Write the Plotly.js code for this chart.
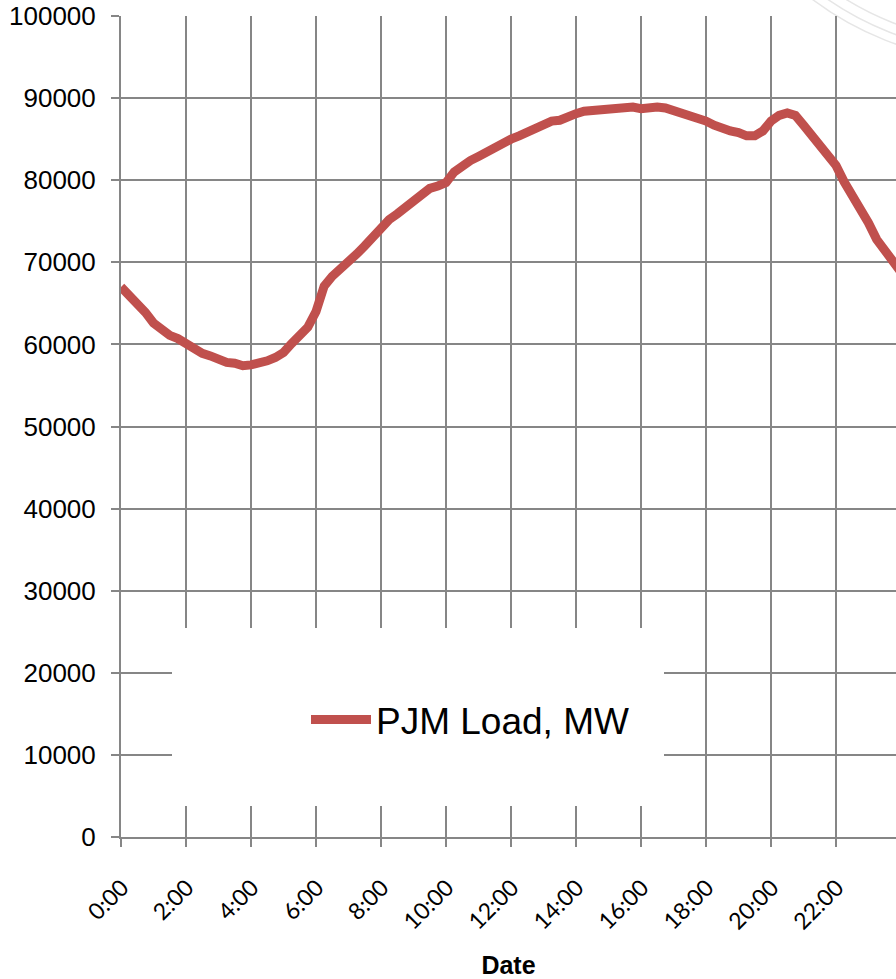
<!DOCTYPE html>
<html>
<head>
<meta charset="utf-8">
<script src="https://cdn.plot.ly/plotly-3.0.1.min.js"></script>
<style>
  html, body { margin: 0; padding: 0; background: #ffffff; }
  #chart { width: 896px; height: 979px; }
</style>
</head>
<body>
<div id="chart"></div>
<script>
// Time of day in hours (15-minute steps)
const hours = [
  0, 0.25, 0.5, 0.75, 1, 1.25, 1.5, 1.75, 2, 2.25, 2.5, 2.75,
  3, 3.25, 3.5, 3.75, 4, 4.25, 4.5, 4.75, 5, 5.25, 5.5, 5.75,
  6, 6.25, 6.5, 6.75, 7, 7.25, 7.5, 7.75, 8, 8.25, 8.5, 8.75,
  9, 9.25, 9.5, 9.75, 10, 10.25, 10.5, 10.75, 11, 11.25, 11.5, 11.75,
  12, 12.25, 12.5, 12.75, 13, 13.25, 13.5, 13.75, 14, 14.25, 14.5, 14.75,
  15, 15.25, 15.5, 15.75, 16, 16.25, 16.5, 16.75, 17, 17.25, 17.5, 17.75,
  18, 18.25, 18.5, 18.75, 19, 19.25, 19.5, 19.75, 20, 20.25, 20.5, 20.75,
  21, 21.25, 21.5, 21.75, 22, 22.25, 22.5, 22.75, 23, 23.25, 23.5, 23.75, 24
];

// PJM Load, MW
const pjmLoad = [
  67000, 66000, 65000, 63900, 62600, 61700, 61100, 60700, 60100, 59400, 58900, 58600,
  58200, 57800, 57700, 57400, 57500, 57700, 58000, 58400, 59000, 60100, 61100, 62100,
  64000, 67100, 68300, 69100, 70000, 71000, 72000, 73200, 74100, 75200, 75900, 76700,
  77400, 78400, 79000, 79300, 79700, 81000, 81800, 82400, 82900, 83500, 84100, 84500,
  85000, 85400, 85900, 86400, 86800, 87200, 87300, 87800, 88100, 88400, 88500, 88600,
  88600, 88700, 88900, 88900, 88700, 88900, 88900, 88800, 88500, 88300, 88000, 87700,
  87200, 86700, 86300, 86000, 85800, 85400, 85400, 86000, 87200, 87900, 88200, 87900,
  86700, 85500, 84600, 83200, 81800, 79800, 78300, 76700, 74800, 72800, 71400, 70000, 68800
];

const tickHours = [0, 2, 4, 6, 8, 10, 12, 14, 16, 18, 20, 22];
const tickLabels = ["0:00", "2:00", "4:00", "6:00", "8:00", "10:00", "12:00", "14:00", "16:00", "18:00", "20:00", "22:00"];

const seriesName = "PJM Load, MW";
const xTitle = "Date";

// Layout geometry (pixels)
const W = 896, H = 979;
const mL = 121, mT = 16, mB = 142, mR = 0;
const plotW = W - mL - mR, plotH = H - mT - mB;
const px = v => (v - mL) / plotW;
const py = v => (H - mB - v) / plotH;

// faint decorative arcs in the top-right corner
const arcs = [312, 303, 293].map(function (r) {
  const cx = 1000, cy = -250;
  return {
    type: 'circle', xref: 'paper', yref: 'paper', layer: 'below',
    x0: px(cx - r), x1: px(cx + r), y0: py(cy + r), y1: py(cy - r),
    line: { color: '#e6e6e6', width: 1.5 }
  };
});

const trace = {
  x: hours, y: pjmLoad, type: 'scatter', mode: 'lines', name: seriesName,
  line: { color: '#C0504D', width: 9, shape: 'linear' },
  showlegend: true
};

const layout = {
  width: W, height: H,
  margin: { l: mL, r: mR, t: mT, b: mB, pad: 0 },
  paper_bgcolor: '#ffffff', plot_bgcolor: 'rgba(0,0,0,0)',
  font: { family: 'Liberation Sans, Arial, sans-serif', color: '#000000' },
  xaxis: {
    range: [0, 23.846],
    tickvals: tickHours, ticktext: tickLabels,
    tickangle: -45,
    tickfont: { family: 'Lato, Carlito, sans-serif', size: 23, color: '#000' },
    ticks: 'outside', ticklen: 8, tickcolor: '#868686', tickwidth: 2,
    ticklabelstandoff: 18, ticklabelshift: 1,
    showgrid: true, gridcolor: '#868686', gridwidth: 2,
    showline: true, linecolor: '#868686', linewidth: 2,
    zeroline: false,
    title: { text: xTitle, font: { family: 'Liberation Sans, Arial, sans-serif', size: 25, color: '#000', weight: 'bold' }, standoff: 30 }
  },
  yaxis: {
    range: [0, 100000],
    tickvals: [0, 10000, 20000, 30000, 40000, 50000, 60000, 70000, 80000, 90000, 100000],
    ticktext: ['0', '10000', '20000', '30000', '40000', '50000', '60000', '70000', '80000', '90000', '100000'],
    tickfont: { family: 'Liberation Sans, Arial, sans-serif', size: 26, color: '#000' },
    ticks: 'outside', ticklen: 8, tickcolor: '#868686', tickwidth: 2,
    ticklabelstandoff: 10,
    showgrid: true, gridcolor: '#868686', gridwidth: 2,
    showline: true, linecolor: '#868686', linewidth: 2,
    zeroline: false
  },
  shapes: arcs.concat([{
    type: 'rect', xref: 'paper', yref: 'paper', layer: 'above',
    x0: px(172), x1: px(664), y0: py(806), y1: py(628),
    fillcolor: '#ffffff', line: { width: 0 }
  }]),
  legend: {
    x: px(470), y: py(720), xanchor: 'center', yanchor: 'middle',
    bgcolor: 'rgba(0,0,0,0)', borderwidth: 0,
    font: { family: 'Liberation Sans, Arial, sans-serif', size: 37, color: '#000' },
    itemwidth: 60
  }
};

Plotly.newPlot('chart', [trace], layout, { staticPlot: true, displayModeBar: false });
</script>
</body>
</html>
